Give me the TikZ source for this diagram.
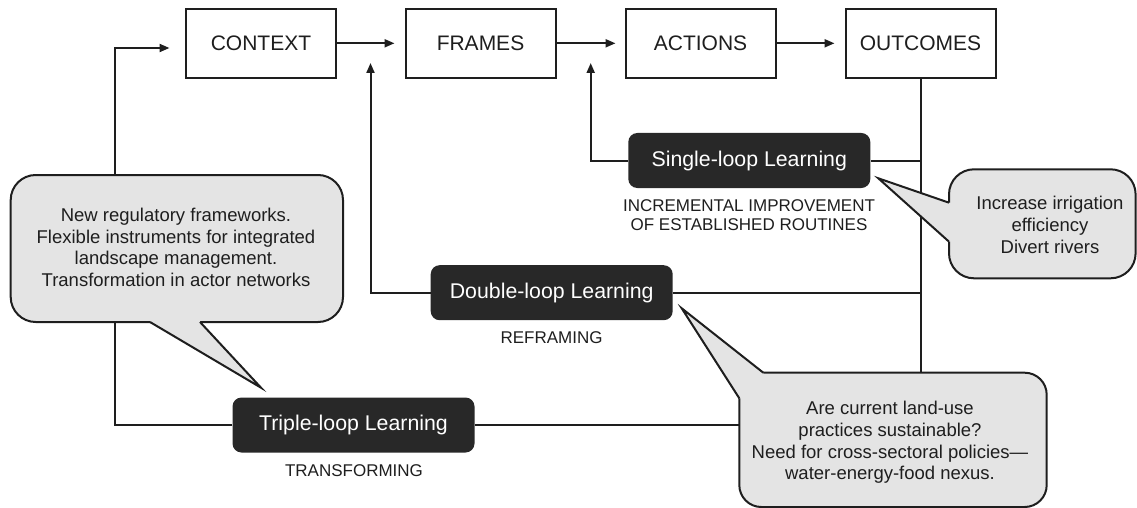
\documentclass[tikz,border=0pt]{standalone}
\usepackage{fontspec}
\setmainfont{Liberation Sans}
\usetikzlibrary{arrows.meta}
\definecolor{ink}{HTML}{1E1E1E}
\definecolor{darkbox}{HTML}{282828}
\definecolor{bubblefill}{HTML}{E4E4E4}
\begin{document}
\begin{tikzpicture}[x=1pt,y=-1pt,
  stagebox/.style={draw=ink, line width=2pt, fill=white, minimum width=150pt, minimum height=69.5pt, inner sep=0pt, font=\fontsize{21}{25}\selectfont, text=ink},
  loopbox/.style={fill=darkbox, rounded corners=9pt, minimum width=242pt, minimum height=55pt, inner sep=0pt, text=white, font=\fontsize{21.3}{25}\selectfont},
  note/.style={text=ink, align=center, font=\fontsize{17}{19}\selectfont, inner sep=0pt},
  bubbletext/.style={text=ink, align=center, font=\fontsize{18.5}{21.7}\selectfont, inner sep=0pt},
  conn/.style={draw=ink, line width=2pt},
  arr/.style={conn, -{Triangle[length=10pt,width=8pt]}},
  bubble/.style={fill=bubblefill, draw=ink, line width=2pt},
  pointer/.style={draw=ink, line width=2pt},
]
\useasboundingbox (0,0) rectangle (1137,508);

% stage boxes
\node[stagebox] (ctx) at (261,43.3) {CONTEXT};
\node[stagebox] (frm) at (480.5,43.3) {FRAMES};
\node[stagebox] (act) at (700.5,43.3) {ACTIONS};
\node[stagebox] (out) at (920.5,43.3) {OUTCOMES};

% helper coordinates
\coordinate (sltip) at (590.7,63);
\coordinate (dltip) at (370.5,63);
\coordinate (tlbend) at (115,48);
\coordinate (tltip) at (169.5,48);

% learning boxes
\node[loopbox] (sl) at (749.3,160.5) {Single-loop Learning};
\node[loopbox] (dl) at (551.7,292.7) {Double-loop Learning};
\node[loopbox] (tl) at (353.5,425) {Triple-loop Learning};

% connectors
\draw[arr, shorten >=10pt] (ctx) -- (frm);
\draw[arr, shorten >=9pt] (frm) -- (act);
\draw[arr, shorten >=10pt] (act) -- (out);
\draw[arr] (sl.west) -| (sltip);
\draw[arr] (dl.west) -| (dltip);
\draw[arr] (tl.west) -| (tlbend) -- (tltip);
\draw[conn] (out.south) |- (sl.east);
\draw[conn] (out.south) |- (dl.east);
\draw[conn] (out.south) |- (tl.east);

% subtitles
\node[note] (slnote) at (749,215) {INCREMENTAL IMPROVEMENT\\OF ESTABLISHED ROUTINES};
\node[note] (dlnote) at (551.5,338) {REFRAMING};
\node[note] (tlnote) at (354,471) {TRANSFORMING};

% left bubble
\draw[bubble, rounded corners=25pt] (10.7,175) rectangle (343,322);
\fill[bubblefill] (150,322) -- (261,387.7) -- (200,322) -- (200,316) -- (150,316) -- cycle;
\draw[pointer] (150,322) -- (261,387.7) -- (200,322);
\node[bubbletext] (lbt) at (176,247.3) {New regulatory frameworks.\\Flexible instruments for integrated\\landscape management.\\Transformation in actor networks};

% right bubble
\draw[bubble, rounded corners=25pt] (949,169.3) rectangle (1135.6,278.3);
\fill[bubblefill] (949,202.7) -- (878.3,178.3) -- (949,241.7) -- (955,241.7) -- (955,202.7) -- cycle;
\draw[pointer] (949,202.7) -- (878.3,178.3) -- (949,241.7);
\node[bubbletext] (rbt) at (1050,225) {Increase irrigation\\efficiency\\Divert rivers};

% lower bubble
\draw[bubble, rounded corners=22pt] (739.3,372.7) rectangle (1046.7,507);
\fill[bubblefill] (763.3,372.7) -- (681.7,308.3) -- (739.3,398.3) -- (742,398.3) -- (763.3,375) -- cycle;
\draw[pointer] (763.3,372.7) -- (681.7,308.3) -- (739.3,398.3);
\node[bubbletext] (bbt) at (890,442.4) {Are current land-use\\practices sustainable?\\Need for cross-sectoral policies—\\water-energy-food nexus.};
\end{tikzpicture}
\end{document}
